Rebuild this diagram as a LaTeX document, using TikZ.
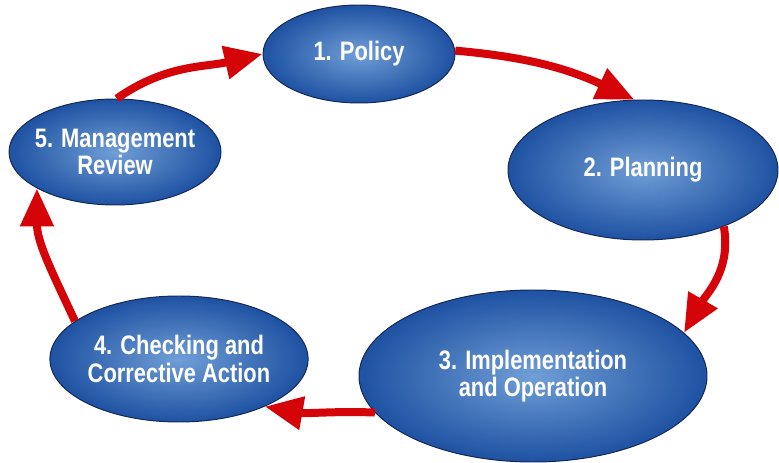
\documentclass[tikz,border=0pt]{standalone}
\usepackage{fontspec}
\newfontfamily\stagefont{Liberation Sans}[FakeStretch=0.82]
\usetikzlibrary{shapes.geometric,arrows.meta}

\definecolor{stageblue}{RGB}{30,82,162}
\definecolor{stagelight}{RGB}{112,158,214}
\definecolor{stageline}{RGB}{20,40,85}
\definecolor{cyclered}{RGB}{212,4,8}

\tikzset{
  stage/.style={ellipse, draw=stageline, line width=0.7pt,
    shading=radial, inner color=stagelight, outer color=stageblue,
    text=white, align=center, inner sep=0pt,
    font=\stagefont\bfseries\fontsize{19}{19.5}\selectfont},
  cycle/.style={draw=cyclered, line width=0.2cm,
    -{Triangle[length=0.95cm,width=0.8cm]}}
}

\begin{document}
\begin{tikzpicture}
  % Fix the page to the reference size
  \useasboundingbox (0,0) rectangle (19.475,11.575);

  % The five stages
  \node[stage, minimum width=4.8cm, minimum height=2.45cm] (policy) at (8.975,10.225) {1. Policy};
  \node[stage, minimum width=6.75cm, minimum height=3.5cm] (planning) at (16.075,7.325) {2. Planning};
  \node[stage, minimum width=8.7cm, minimum height=4.3cm] (implementation) at (13.325,2.175) {3. Implementation\\and Operation};
  \node[stage, minimum width=6.35cm, minimum height=3.15cm] (checking) at (4.475,2.6) {4. Checking and\\Corrective Action};
  \node[stage, minimum width=5.3cm, minimum height=2.65cm, inner xsep=-0.25cm] (review) at (2.875,7.775) {5. Management\\Review};

  % Arrows round the cycle
  \draw[cycle] (policy.2) to[out=-5, in=155] (planning.97);
  \draw[cycle] (planning.-35) to[out=-80, in=60] (implementation.16);
  \draw[cycle] (implementation.193) to[out=178, in=-10] (checking.-29);
  \draw[cycle] (checking.160) to[out=115, in=-90] (review.205);
  \draw[cycle] (review.88) to[out=35, in=193] (policy.180);
\end{tikzpicture}
\end{document}
